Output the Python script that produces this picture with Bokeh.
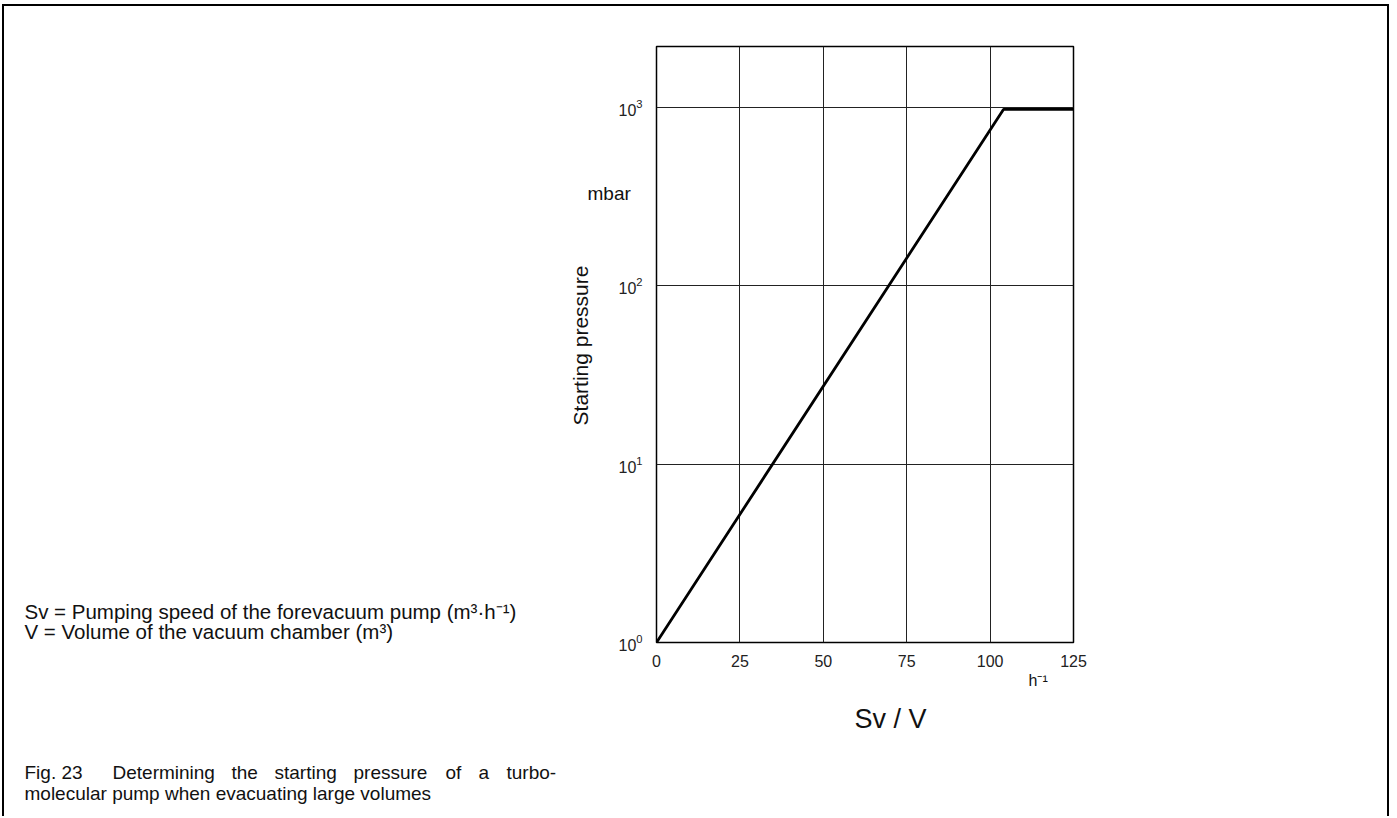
from bokeh.plotting import figure
from bokeh.models import Label, FixedTicker
from bokeh.embed import file_html
from bokeh.resources import INLINE

# data
sv_per_v = [0, 104, 125]
start_pressure = [1, 975, 975]
x_ticks = [0, 25, 50, 75, 100, 125]
y_ticks = [1, 10, 100, 1000]

FONT = "Liberation Sans"
OX, OY = 4, 6                      # canvas origin on the page (margin + border)
W, H = 1387, 812
FL, FR, FT, FB = 656, 1073, 46, 642   # frame edges (page px)
X0, X1 = 0, 125
DEC = (FB - 107) / 3.0                 # px per decade
YTOP = 10 ** ((FB - FT) / DEC)

p = figure(width=W, height=H, output_backend="svg", toolbar_location=None,
           x_range=(X0, X1), y_range=(1, YTOP), y_axis_type="log",
           min_border_left=FL - OX, min_border_right=W - (FR - OX),
           min_border_top=FT - OY, min_border_bottom=H - (FB - OY),
           background_fill_color="white", border_fill_color="white")
p.styles = {"border": "2px solid black", "border-bottom": "none",
            "margin-left": "2px", "margin-top": "4px"}
p.outline_line_color = "black"
p.outline_line_width = 1.5
p.outline_line_alpha = 1

p.xaxis.ticker = FixedTicker(ticks=x_ticks)
p.yaxis.ticker = FixedTicker(ticks=y_ticks)
for ax in (p.xaxis[0], p.yaxis[0]):
    ax.axis_line_color = None
    ax.major_tick_line_color = None
    ax.minor_tick_line_color = None
    ax.major_label_text_font = FONT
    ax.major_label_text_font_size = "16px"
    ax.major_label_text_color = "#222222"
p.xaxis.major_label_standoff = 6
p.yaxis.major_label_standoff = 8

p.xgrid.ticker = FixedTicker(ticks=x_ticks)
p.ygrid.ticker = FixedTicker(ticks=y_ticks)
for g in (p.xgrid[0], p.ygrid[0]):
    g.grid_line_color = "#222222"
    g.grid_line_width = 1
    g.grid_line_alpha = 1

p.line(sv_per_v, start_pressure, line_color="black", line_width=2.8)


def lab(side, text, X, Y, size, align="left", angle=0):
    xd = X0 + (X - FL) / (FR - FL) * (X1 - X0)
    yd = 10 ** ((FB - Y) / DEC)
    p.add_layout(Label(x=xd, y=yd, text=text, text_font=FONT,
                       text_font_size=size, text_color="#111111",
                       text_align=align, text_baseline="middle", angle=angle),
                 side)


lab("right", "mbar", 587, 193, "19px")
lab("right", "h\u207b\u00b9", 1028, 680, "16px")
lab("left", "Starting pressure", 580, 345, "21px", align="center", angle=1.5708)
lab("below", "Sv / V", 890, 718, "27px", align="center")
lab("below", "Sv = Pumping speed of the forevacuum pump (m\u00b3\u00b7h\u207b\u00b9)", 24, 611, "20.5px")
lab("below", "V = Volume of the vacuum chamber (m\u00b3)", 24, 631, "20.5px")
lab("below", "molecular pump when evacuating large volumes", 24, 793, "19px")

# justified first caption line, word by word
lab("left", "Fig. 23", 24, 772, "19px")
lab("left", "Determining", 112, 772, "19px")
lab("right", "the", 231, 772, "19px")
lab("right", "starting", 274, 772, "19px")
lab("left", "pressure", 353, 772, "19px")
lab("right", "of", 445, 772, "19px")
lab("right", "a", 478, 772, "19px")
lab("right", "turbo-", 506, 772, "19px")

open("out.html", "w").write(file_html(p, INLINE))
